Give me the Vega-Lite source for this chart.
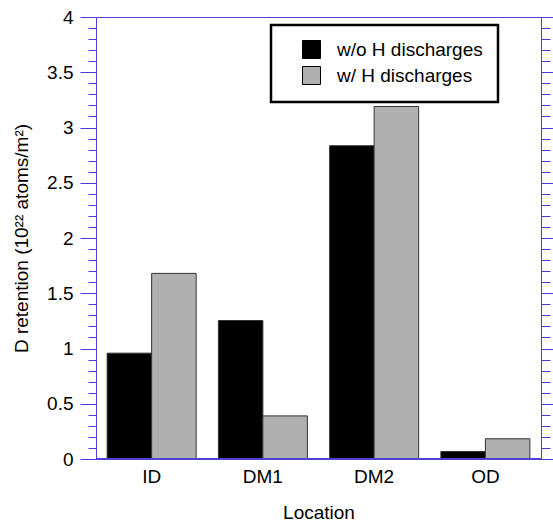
{
  "$schema": "https://vega.github.io/schema/vega-lite/v6.json",
  "width": 445,
  "height": 442,
  "autosize": {"type": "none"},
  "padding": {"left": 96, "top": 17, "right": 12, "bottom": 62},
  "data": {
    "values": [
      {"location": "ID", "condition": "w/o H discharges", "value": 0.958},
      {"location": "ID", "condition": "w/ H discharges", "value": 1.68},
      {"location": "DM1", "condition": "w/o H discharges", "value": 1.253},
      {"location": "DM1", "condition": "w/ H discharges", "value": 0.39},
      {"location": "DM2", "condition": "w/o H discharges", "value": 2.835},
      {"location": "DM2", "condition": "w/ H discharges", "value": 3.19},
      {"location": "OD", "condition": "w/o H discharges", "value": 0.068},
      {"location": "OD", "condition": "w/ H discharges", "value": 0.183}
    ]
  },
  "layer": [
    {
      "mark": {"type": "bar", "stroke": "#333333", "strokeWidth": 1},
      "encoding": {
        "x": {
          "field": "location", "type": "nominal",
          "sort": ["ID", "DM1", "DM2", "OD"],
          "scale": {"paddingInner": 0.2, "paddingOuter": 0.1},
          "axis": {
            "orient": "bottom", "domain": false, "ticks": false, "grid": false,
            "labelAngle": 0, "labelFontSize": 19, "labelPadding": 8, "labelColor": "black",
            "title": "Location", "titleFontSize": 19, "titleFontWeight": "normal", "titlePadding": 17, "titleColor": "black"
          }
        },
        "xOffset": {
          "field": "condition", "type": "nominal",
          "sort": ["w/o H discharges", "w/ H discharges"],
          "scale": {"paddingInner": 0, "paddingOuter": 0}
        },
        "y": {
          "field": "value", "type": "quantitative",
          "scale": {"domain": [0, 4], "nice": false, "zero": true},
          "axis": {
            "orient": "left", "domain": false, "grid": false,
            "values": [0,0.1,0.2,0.3,0.4,0.5,0.6,0.7,0.8,0.9,1,1.1,1.2,1.3,1.4,1.5,1.6,1.7,1.8,1.9,2,2.1,2.2,2.3,2.4,2.5,2.6,2.7,2.8,2.9,3,3.1,3.2,3.3,3.4,3.5,3.6,3.7,3.8,3.9,4],
            "format": "~g",
            "tickColor": "#4a3ad8",
            "tickSize": {"condition": {"test": "abs(datum.value*2 - round(datum.value*2)) < 0.001", "value": 16}, "value": 8},
            "labelExpr": "abs(datum.value*2 - round(datum.value*2)) < 0.001 ? datum.label : ''",
            "labelFontSize": 19, "labelPadding": 7, "labelColor": "black",
            "title": "D retention (10²² atoms/m²)", "titleFontSize": 19, "titleFontWeight": "normal", "titleColor": "black", "titlePadding": 15
          }
        },
        "color": {
          "field": "condition", "type": "nominal",
          "scale": {"domain": ["w/o H discharges", "w/ H discharges"], "range": ["#000000", "#b0b0b0"]},
          "legend": {
            "orient": "none", "legendX": 175, "legendY": 8, "title": null,
            "symbolType": "square", "symbolSize": 324, "symbolStrokeColor": "black", "symbolStrokeWidth": 1,
            "symbolOffset": 16, "labelOffset": 16, "rowPadding": 3,
            "labelFontSize": 19, "labelColor": "black",
            "padding": 15, "strokeColor": "black", "fillColor": "white"
          }
        }
      }
    },
    {
      "mark": {"type": "rule", "color": "#5040d8", "strokeWidth": 1},
      "encoding": {
        "y": {
          "datum": 0, "type": "quantitative",
          "scale": {"domain": [0, 4], "nice": false},
          "axis": {
            "orient": "right", "domain": false, "grid": false, "labels": false, "title": null,
            "values": [0,0.1,0.2,0.3,0.4,0.5,0.6,0.7,0.8,0.9,1,1.1,1.2,1.3,1.4,1.5,1.6,1.7,1.8,1.9,2,2.1,2.2,2.3,2.4,2.5,2.6,2.7,2.8,2.9,3,3.1,3.2,3.3,3.4,3.5,3.6,3.7,3.8,3.9,4],
            "tickColor": "#4a3ad8",
            "tickSize": {"condition": {"test": "abs(datum.value*2 - round(datum.value*2)) < 0.001", "value": 12}, "value": 9}
          }
        }
      }
    }
  ],
  "resolve": {"axis": {"y": "independent"}},
  "config": {
    "font": "Liberation Sans",
    "view": {"stroke": "#5040d8", "strokeWidth": 1},
    "legend": {"strokeWidth": 2.5}
  }
}
